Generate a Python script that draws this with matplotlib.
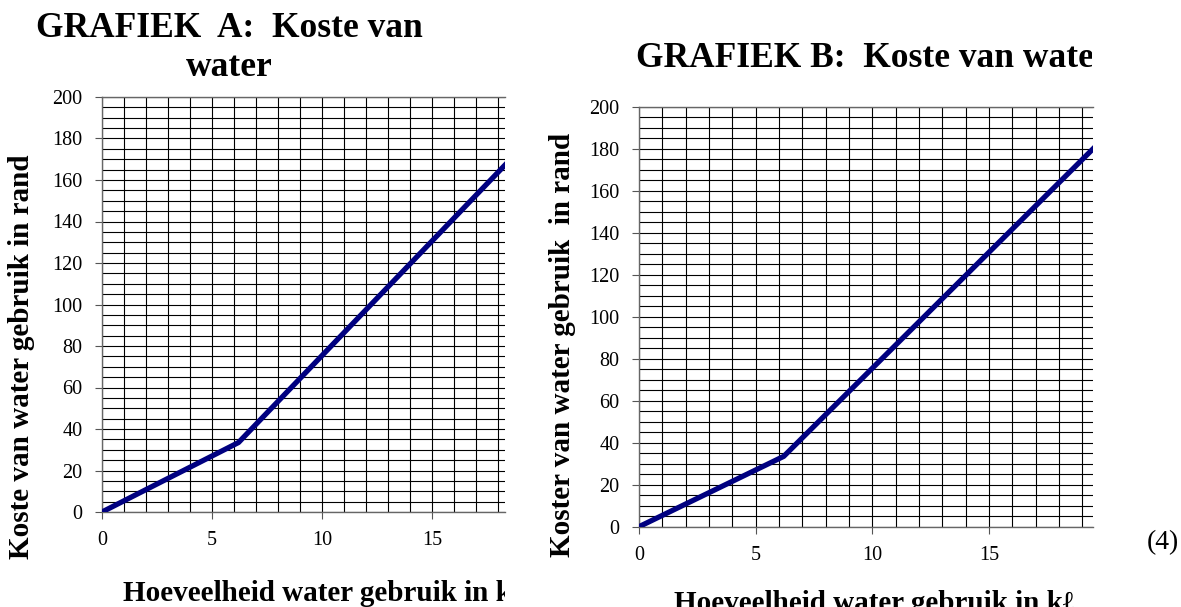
import matplotlib
matplotlib.use("Agg")
import matplotlib.pyplot as plt
from matplotlib.ticker import MultipleLocator
from matplotlib.transforms import Bbox

plt.rcParams['font.family'] = ['Liberation Serif', 'DejaVu Serif']

# water used (kl) and cost (rand)
water_kl = [0, 6.2, 20]
cost_rand = [0, 33.5, 186]

x_ticks = [0, 5, 10, 15]
y_ticks = [0, 20, 40, 60, 80, 100, 120, 140, 160, 180, 200]

W, H = 1181, 607
fig = plt.figure(figsize=(W / 100, H / 100), dpi=100)


def px_box(x0, y0, x1, y1):
    # box in pixels from top-left -> figure fraction
    return [x0 / W, 1 - y1 / H, (x1 - x0) / W, (y1 - y0) / H]


def setup(ax, xmax, tsize):
    ax.plot(water_kl, cost_rand, color='#000080', lw=3.8, solid_capstyle='butt',
            zorder=5)
    ax.set_xlim(0, xmax)
    ax.set_ylim(0, 200)
    ax.set_xticks(x_ticks)
    ax.set_yticks(y_ticks)
    ax.xaxis.set_minor_locator(MultipleLocator(1))
    ax.yaxis.set_minor_locator(MultipleLocator(5))
    ax.grid(True, which='both', color='black', lw=0.8)
    ax.tick_params(which='minor', length=0)
    ax.tick_params(which='major', length=5, width=0.8, color='#555555',
                   labelsize=tsize, pad=9)
    ax.spines['right'].set_visible(False)
    for s in ['left', 'bottom', 'top']:
        ax.spines[s].set_color('#666666')
        ax.spines[s].set_linewidth(1.0)
    ax.set_axisbelow(True)


# ---- Grafiek A ----
axA = fig.add_axes(px_box(102, 97, 505, 512))
setup(axA, 18.3, 14.5)
clipA = Bbox.from_extents(0, 0, 505, H)

fig.text(229 / W, 1 - 12 / H, "GRAFIEK  A:  Koste van\nwater", ha='center',
         va='top', fontsize=25.5, fontweight='bold', linespacing=1.25)
fig.text(22 / W, 1 - 357 / H, "Koste van water gebruik in rand", rotation=90,
         ha='center', va='center', fontsize=21, fontweight='bold')
xa = fig.text(123 / W, 1 - 601 / H, "Hoeveelheid water gebruik in k\u2113",
              ha='left', va='baseline', fontsize=21, fontweight='bold')
xa.set_clip_box(clipA)
xa.set_clip_on(True)

# ---- Grafiek B ----
axB = fig.add_axes(px_box(639, 106.7, 1093, 526.7))
setup(axB, 19.45, 14.5)
clipB = Bbox.from_extents(0, 0, 1092, H)

tb = fig.text(636 / W, 1 - 66.7 / H, "GRAFIEK B:  Koste van water", ha='left',
              va='baseline', fontsize=25.5, fontweight='bold')
tb.set_clip_box(clipB)
tb.set_clip_on(True)
fig.text(562 / W, 1 - 345 / H, "Koster van water gebruik  in rand", rotation=90,
         ha='center', va='center', fontsize=21, fontweight='bold')
fig.text(674 / W, 1 - 611 / H, "Hoeveelheid water gebruik in k\u2113",
         ha='left', va='baseline', fontsize=21, fontweight='bold')

fig.text(1163 / W, 1 - 543 / H, "(4)", ha='center', va='center', fontsize=20)

fig.savefig("out.png", dpi=100)
